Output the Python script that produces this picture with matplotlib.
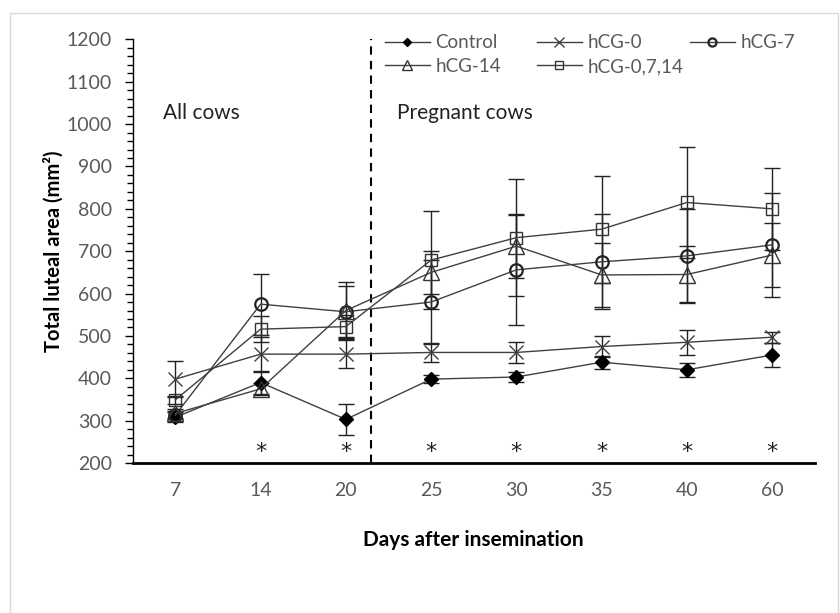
import matplotlib
matplotlib.use("Agg")
import matplotlib.pyplot as plt
from matplotlib.ticker import MultipleLocator
from matplotlib.patches import Rectangle

plt.rcParams['font.family'] = ['Lato', 'DejaVu Sans']

days = ["7", "14", "20", "25", "30", "35", "40", "60"]
control = [308, 390, 303, 398, 403, 438, 420, 455]
control_err = [12, 26, 36, 10, 12, 15, 17, 29]
hcg0 = [398, 457, 457, 461, 461, 475, 485, 497]
hcg0_err = [43, 40, 33, 23, 24, 25, 30, 13]
hcg7 = [313, 575, 557, 580, 656, 675, 689, 715]
hcg7_err = [10, 72, 60, 100, 130, 112, 110, 122]
hcg14 = [317, 375, 560, 650, 712, 644, 645, 691]
hcg14_err = [10, 15, 68, 50, 75, 75, 67, 75]
hcg0714 = [349, 516, 522, 679, 732, 752, 815, 800]
hcg0714_err = [10, 30, 28, 116, 138, 126, 132, 96]
star_days = ["14", "20", "25", "30", "35", "40", "60"]

fig = plt.figure(figsize=(8.4, 6.13), dpi=100)
ax = fig.add_axes([0.158, 0.2447, 0.812, 0.691])

x = list(range(len(days)))
series = [
    ("Control", control, control_err, dict(marker="D", markersize=7, markerfacecolor="black", markeredgecolor="black")),
    ("hCG-0", hcg0, hcg0_err, dict(marker="x", markersize=10, markerfacecolor="none", markeredgecolor="#404040", markeredgewidth=1.0)),
    ("hCG-7", hcg7, hcg7_err, dict(marker="o", markersize=9, markerfacecolor="none", markeredgecolor="#222222", markeredgewidth=1.6)),
    ("hCG-14", hcg14, hcg14_err, dict(marker="^", markersize=12, markerfacecolor="none", markeredgecolor="#333333", markeredgewidth=1.0)),
    ("hCG-0,7,14", hcg0714, hcg0714_err, dict(marker="s", markersize=8, markerfacecolor="none", markeredgecolor="#333333", markeredgewidth=1.0)),
]
handles = {}
for name, vals, err, st in series:
    ax.errorbar(x, vals, yerr=err, fmt="none", ecolor="#222222", elinewidth=1.0, capsize=6, capthick=1.0, zorder=2)
    h, = ax.plot(x, vals, color="#404040", linewidth=1.0, label=name, zorder=3, **st)
    handles[name] = h

sx = [days.index(d) for d in star_days]
for xi in sx:
    ax.text(xi, 226, "*", ha="center", va="center", fontsize=16, color="#222222", family="DejaVu Sans")

ax.axvline(2.3, color="black", linestyle=(0, (4, 3)), linewidth=1.5, zorder=1)

ax.set_xlim(-0.5, 7.5)
ax.set_ylim(200, 1200)
ax.set_xticks(x)
ax.set_xticklabels(days)
ax.yaxis.set_major_locator(MultipleLocator(100))
ax.yaxis.set_minor_locator(MultipleLocator(20))
ax.tick_params(axis="y", which="major", direction="out", length=6, width=1, colors="black", labelcolor="#595959", labelsize=14, pad=9)
ax.tick_params(axis="y", which="minor", direction="out", length=4, width=1, colors="black")
ax.tick_params(axis="x", which="both", length=0, labelcolor="#595959", labelsize=14, pad=14)

for s in ["top", "right"]:
    ax.spines[s].set_visible(False)
ax.spines["left"].set_linewidth(1.0)
ax.spines["bottom"].set_linewidth(2.0)

ax.set_ylabel("Total luteal area (mm²)", fontsize=14.5, fontweight="bold", labelpad=2)
ax.set_xlabel("Days after insemination", fontsize=15, fontweight="bold", labelpad=22)

ax.text(-0.15, 1026, "All cows", ha="left", va="center", fontsize=15, color="#222222")
ax.text(2.6, 1026, "Pregnant cows", ha="left", va="center", fontsize=15, color="#222222")

legend_cols = [["Control", "hCG-14"], ["hCG-0", "hCG-0,7,14"], ["hCG-7"]]
legend_x = [0.3695, 0.5924, 0.8167]
for names, lx in zip(legend_cols, legend_x):
    leg = ax.legend(handles=[handles[n] for n in names], loc="upper left", bbox_to_anchor=(lx, 1.012),
                    frameon=False, fontsize=13.5, handlelength=2.4, borderpad=0, borderaxespad=0,
                    handletextpad=0.3, labelspacing=0.35, markerscale=0.65)
    for t in leg.get_texts():
        t.set_color("#595959")
    ax.add_artist(leg)
ax.legend_ = None

fig.patches.append(Rectangle((0.0119, -0.02), 0.986, 0.9988, transform=fig.transFigure,
                             fill=False, edgecolor="#d9d9d9", linewidth=1.0))

fig.savefig("out.png", dpi=100)
